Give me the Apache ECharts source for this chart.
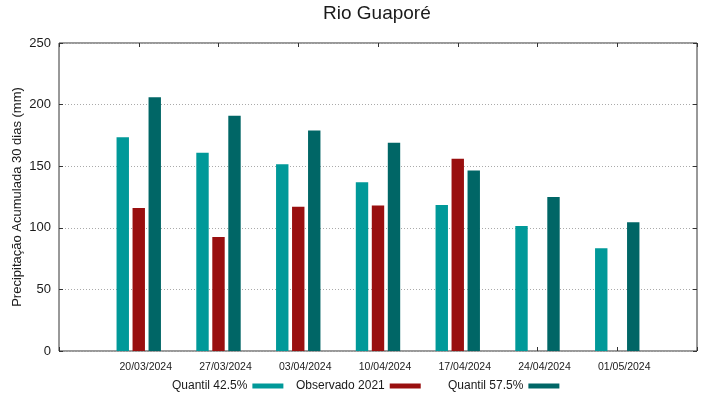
<!DOCTYPE html>
<html>
<head>
<meta charset="utf-8">
<script src="https://cdn.jsdelivr.net/npm/echarts@6/dist/echarts.min.js"></script>
<style>
  html, body { margin: 0; padding: 0; background: #fff; }
  #chart { width: 719px; height: 399px; }
</style>
</head>
<body>
<div id="chart"></div>
<script>
const categories = ['20/03/2024', '27/03/2024', '03/04/2024', '10/04/2024', '17/04/2024', '24/04/2024', '01/05/2024']
const quantil425 = [173.5, 161, 151.5, 137, 118.5, 101.5, 83.5]
const observado2021 = [116, 92.5, 117, 118, 156, null, null]
const quantil575 = [206, 191, 179, 169, 146.5, 125, 104.5]
const yTicks = [0, 50, 100, 150, 200, 250]

// gnuplot leaves one empty slot on each side
const pad = (arr) => [null].concat(arr, [null])
const axisCats = [''].concat(categories, [''])

const font = 'Liberation Sans, Arial, sans-serif'
const textColor = '#1a1a1a'
// small ticks pointing into the plot, on all four sides
const tickStyle = { show: true, inside: true, length: 4, interval: 0, lineStyle: { color: '#333' } }
// onZero off, otherwise the top axis drops to y = 0
const noLine = { show: false, onZero: false }

const chart = echarts.init(document.getElementById('chart'), null, { renderer: 'canvas' })

function legendAt (name, left) {
  return {
    data: [name],
    left: left,
    top: 380,
    padding: 0,
    align: 'right',
    icon: 'rect',
    itemWidth: 31,
    itemHeight: 5,
    textStyle: { fontFamily: font, fontSize: 12, color: textColor }
  }
}

const option = {
  animation: false,
  backgroundColor: '#fff',
  title: {
    text: 'Rio Guaporé',
    left: 323,
    top: 4,
    padding: 0,
    textStyle: { fontFamily: font, fontSize: 19, fontWeight: 'normal', color: textColor }
  },
  legend: [
    legendAt('Quantil 42.5%', 172),
    legendAt('Observado 2021', 296),
    legendAt('Quantil 57.5%', 448)
  ],
  grid: {
    left: 59,
    right: 22,
    top: 43,
    bottom: 48,
    containLabel: false,
    outerBoundsMode: 'none',
    show: true,
    borderColor: '#333',
    borderWidth: 1
  },
  xAxis: [
    {
      type: 'category',
      data: axisCats,
      boundaryGap: false,
      position: 'bottom',
      axisLine: noLine,
      axisTick: tickStyle,
      axisLabel: {
        interval: 0,
        margin: 11,
        padding: [0, 0, 0, 14],
        fontFamily: font,
        fontSize: 10.5,
        color: textColor
      },
      splitLine: { show: false }
    },
    {
      type: 'category',
      data: axisCats,
      boundaryGap: false,
      position: 'top',
      axisLine: noLine,
      axisTick: tickStyle,
      axisLabel: { show: false },
      splitLine: { show: false }
    }
  ],
  yAxis: [
    {
      type: 'value',
      min: yTicks[0],
      max: yTicks[yTicks.length - 1],
      interval: 50,
      position: 'left',
      name: 'Precipitação Acumulada 30 dias (mm)',
      nameLocation: 'middle',
      nameGap: 35,
      nameMoveOverlap: false,
      nameTextStyle: { fontFamily: font, fontSize: 13, color: textColor },
      axisLine: noLine,
      axisTick: tickStyle,
      axisLabel: { margin: 8, fontFamily: font, fontSize: 13, color: textColor },
      splitLine: { show: true, lineStyle: { color: '#aaa', type: [1, 2], width: 1 } }
    },
    {
      type: 'value',
      min: yTicks[0],
      max: yTicks[yTicks.length - 1],
      interval: 50,
      position: 'right',
      axisLine: noLine,
      axisTick: tickStyle,
      axisLabel: { show: false },
      splitLine: { show: false }
    }
  ],
  series: [
    {
      name: 'Quantil 42.5%',
      type: 'bar',
      data: pad(quantil425),
      barWidth: 12.4,
      barGap: '29%',
      itemStyle: { color: '#009999' }
    },
    {
      name: 'Observado 2021',
      type: 'bar',
      data: pad(observado2021),
      barWidth: 12.4,
      barGap: '29%',
      itemStyle: { color: '#990f0f' }
    },
    {
      name: 'Quantil 57.5%',
      type: 'bar',
      data: pad(quantil575),
      barWidth: 12.4,
      barGap: '29%',
      itemStyle: { color: '#006666' }
    }
  ]
}

chart.setOption(option)
</script>
</body>
</html>
